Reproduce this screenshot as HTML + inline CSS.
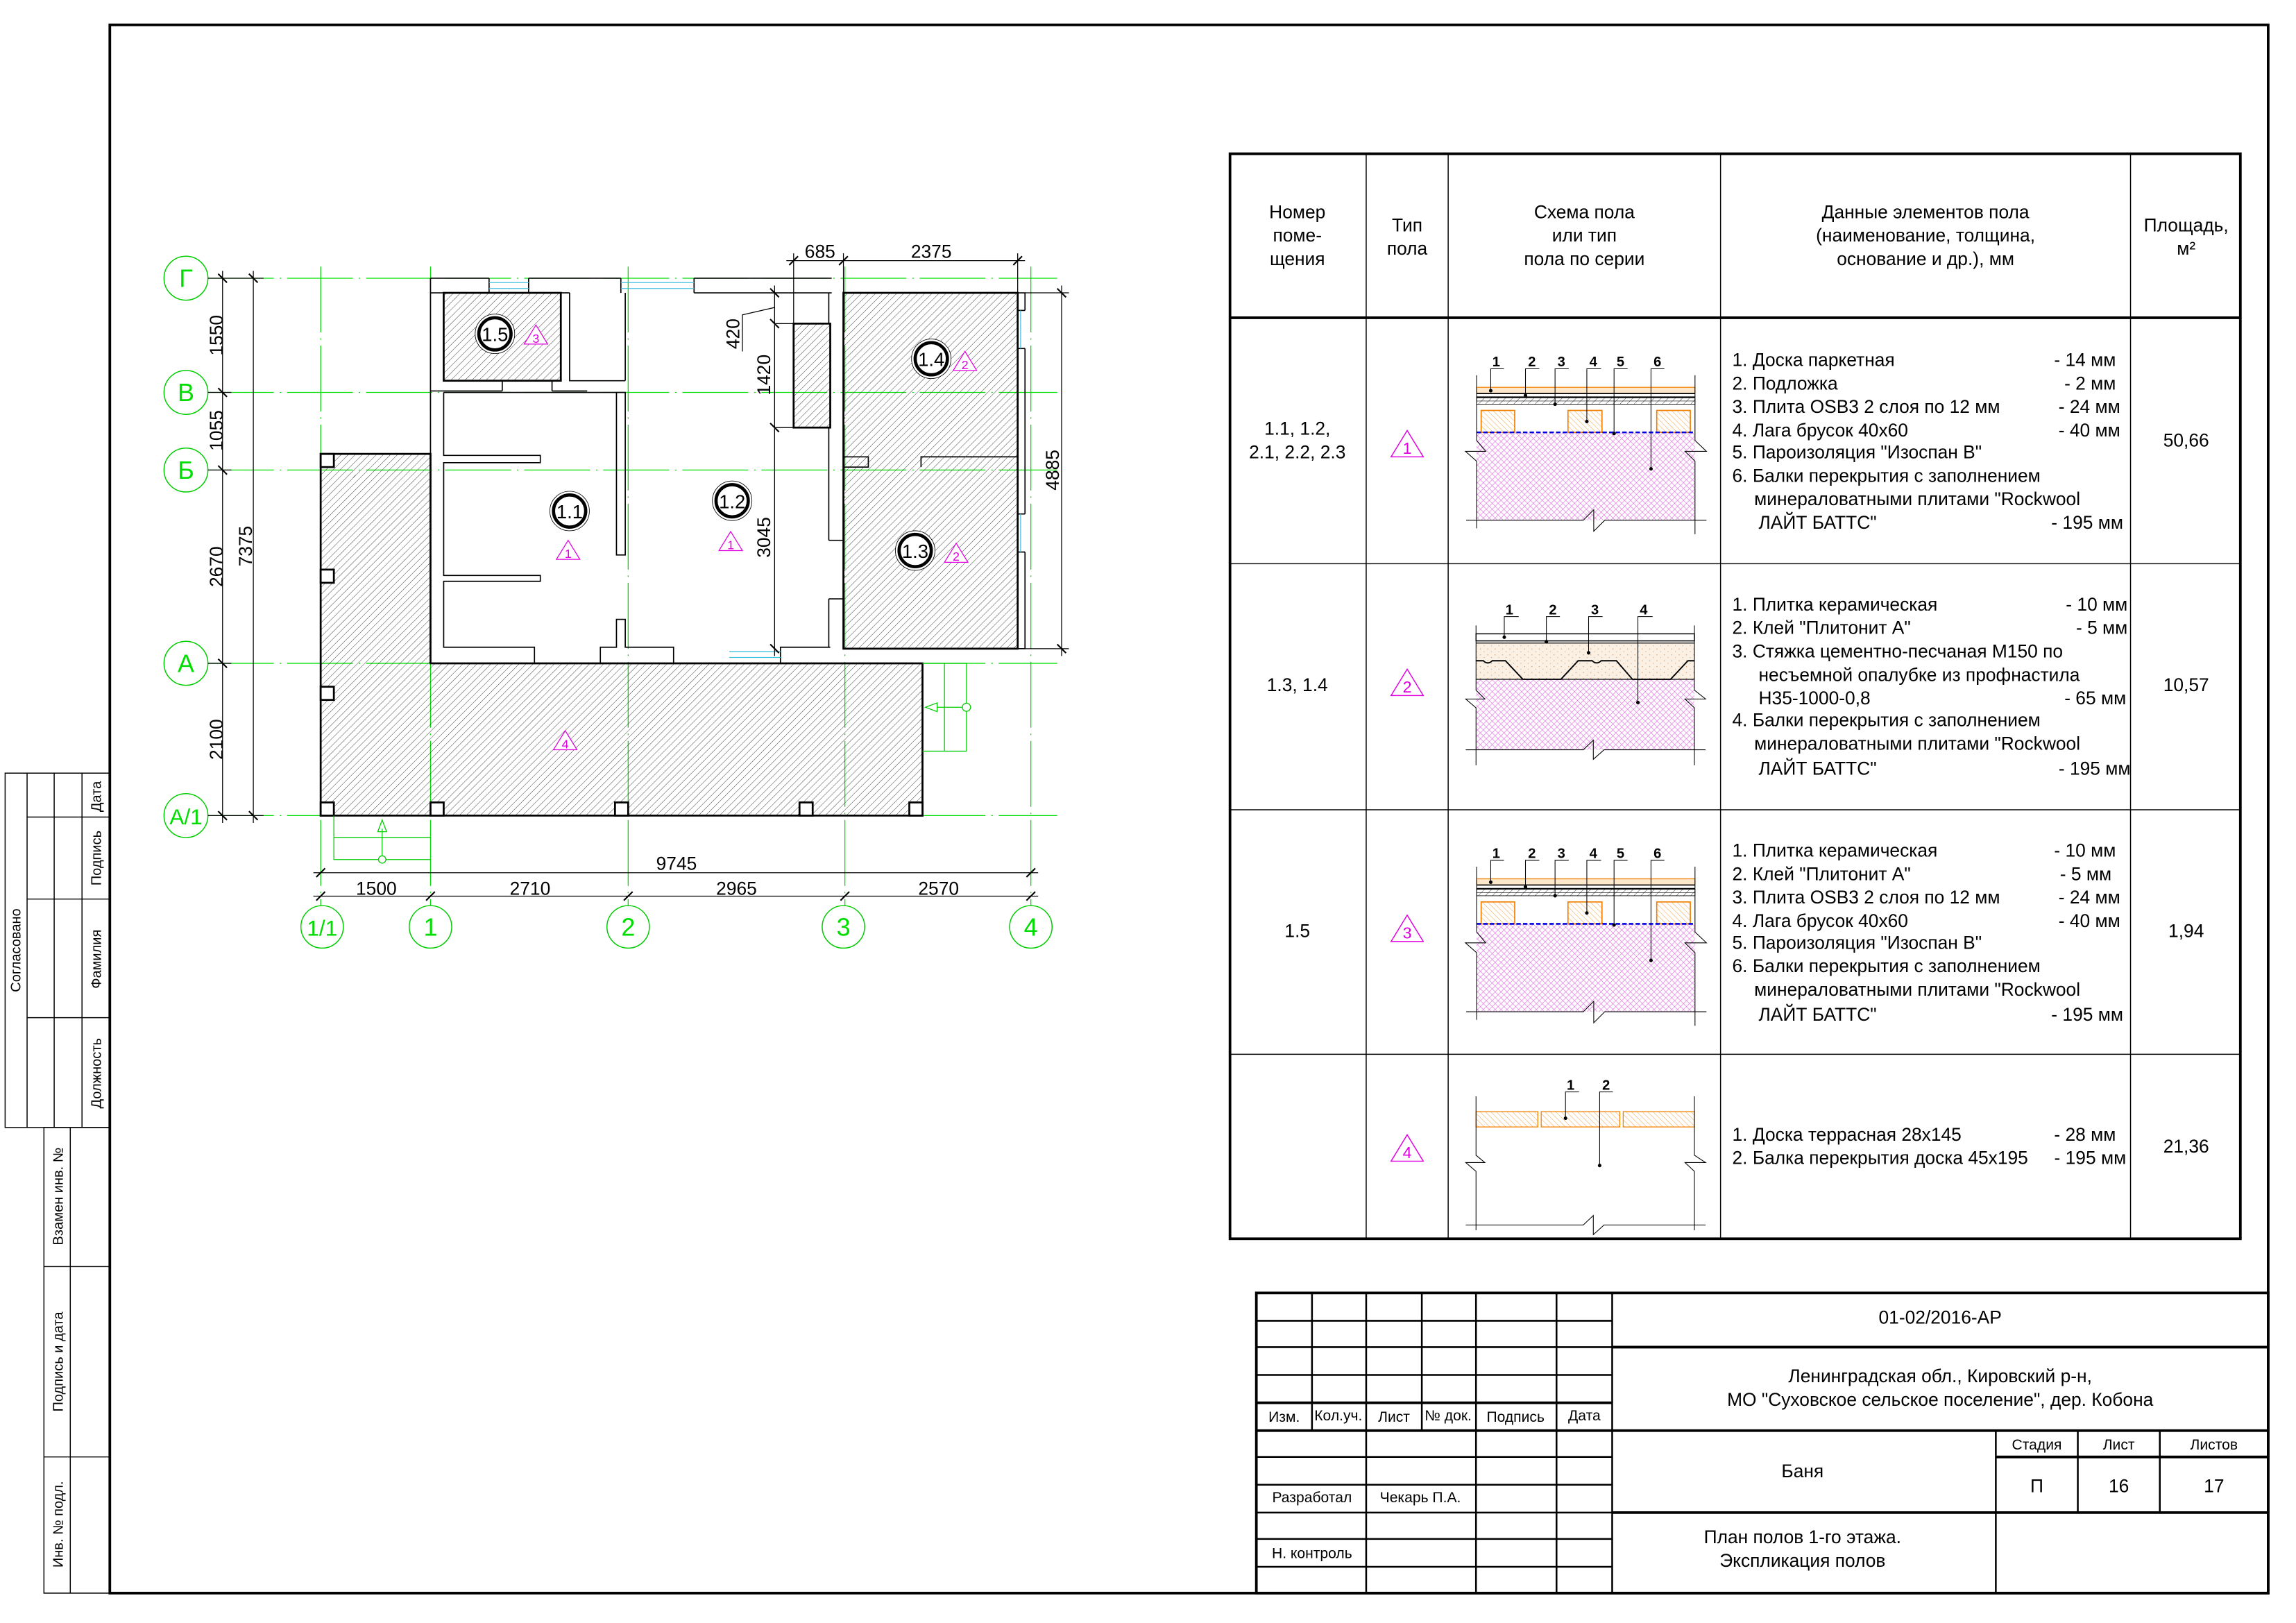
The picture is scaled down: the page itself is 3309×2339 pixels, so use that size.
<!DOCTYPE html>
<html><head><meta charset="utf-8"><style>
html,body{margin:0;padding:0;background:#fff;}
svg{display:block;}
text{font-family:"Liberation Sans",Arial,sans-serif;}
</style></head><body>
<svg xmlns="http://www.w3.org/2000/svg" width="3309" height="2339" viewBox="0 0 1568 1108.4" preserveAspectRatio="none">
<defs>
<pattern id="hk" patternUnits="userSpaceOnUse" width="3.4" height="3.4" patternTransform="rotate(45)"><line x1="0" y1="0" x2="0" y2="3.4" stroke="#222" stroke-width="0.4"/></pattern>
<pattern id="ho" patternUnits="userSpaceOnUse" width="2.6" height="2.6" patternTransform="rotate(-45)"><line x1="0" y1="0" x2="0" y2="2.6" stroke="#f08000" stroke-width="0.35"/></pattern>
<pattern id="pk" patternUnits="userSpaceOnUse" width="4" height="4"><path d="M0,0 L4,4 M4,0 L0,4" stroke="#e070e0" stroke-width="0.3" fill="none"/></pattern>
<pattern id="sd" patternUnits="userSpaceOnUse" width="5" height="4"><rect width="5" height="4" fill="#fbf0e4"/><circle cx="1" cy="1" r="0.35" fill="#d8a070"/><circle cx="3.5" cy="2.8" r="0.3" fill="#d8a070"/></pattern>
</defs>
<rect width="1568" height="1108.4" fill="#fff"/>

<!-- frame -->
<rect x="75" y="17" width="1474" height="1071" fill="none" stroke="#000" stroke-width="1.8"/>

<!-- left strip -->
<g stroke="#000" stroke-width="0.7" fill="none">
<rect x="3.5" y="528" width="71.5" height="242"/>
<line x1="18.5" y1="528" x2="18.5" y2="770"/>
<line x1="37" y1="528" x2="37" y2="770"/>
<line x1="56" y1="528" x2="56" y2="770"/>
<line x1="18.5" y1="558" x2="75" y2="558"/>
<line x1="18.5" y1="614" x2="75" y2="614"/>
<line x1="18.5" y1="695" x2="75" y2="695"/>
<rect x="30" y="770" width="45" height="318"/>
<line x1="48" y1="770" x2="48" y2="1088"/>
<line x1="30" y1="865" x2="75" y2="865"/>
<line x1="30" y1="995" x2="75" y2="995"/>
</g>
<g font-size="9.5" fill="#000" text-anchor="middle">
<text transform="translate(14,649) rotate(-90)">Согласовано</text>
<text transform="translate(69,544) rotate(-90)">Дата</text>
<text transform="translate(69,586) rotate(-90)">Подпись</text>
<text transform="translate(69,655) rotate(-90)">Фамилия</text>
<text transform="translate(69,733) rotate(-90)">Должность</text>
<text transform="translate(43,817) rotate(-90)">Взамен инв. №</text>
<text transform="translate(43,930) rotate(-90)">Подпись и дата</text>
<text transform="translate(43,1041) rotate(-90)">Инв. № подл.</text>
</g>

<!-- ========== PLAN ========== -->
<!-- grid lines -->
<g stroke="#00dd00" stroke-width="0.6" stroke-dasharray="45 4 1 4" fill="none">
<line x1="142" y1="190" x2="722" y2="190"/>
<line x1="142" y1="268" x2="722" y2="268"/>
<line x1="142" y1="321" x2="722" y2="321"/>
<line x1="142" y1="453" x2="722" y2="453"/>
<line x1="142" y1="557" x2="722" y2="557"/>
<line x1="219" y1="182" x2="219" y2="619"/>
<line x1="294" y1="182" x2="294" y2="619"/>
<line x1="429" y1="182" x2="429" y2="619"/>
<line x1="577" y1="182" x2="577" y2="619"/>
<line x1="704" y1="182" x2="704" y2="619"/>
</g>
<!-- bubbles -->
<g stroke="#00cc00" stroke-width="0.7" fill="#fff">
<circle cx="127" cy="190" r="15"/><circle cx="127" cy="268" r="15"/><circle cx="127" cy="321" r="15"/><circle cx="127" cy="453" r="15"/><circle cx="127" cy="557" r="15"/>
<circle cx="220" cy="633" r="14.5"/><circle cx="294" cy="633" r="14.5"/><circle cx="429" cy="633" r="14.5"/><circle cx="576" cy="633" r="14.5"/><circle cx="704" cy="633" r="14.5"/>
</g>
<g fill="#00dd00" font-size="17" text-anchor="middle">
<text x="127" y="196">Г</text><text x="127" y="274">В</text><text x="127" y="327">Б</text><text x="127" y="459">А</text><text x="127" y="563" font-size="15">А/1</text>
<text x="220" y="639" font-size="15">1/1</text><text x="294" y="639">1</text><text x="429" y="639">2</text><text x="576" y="639">3</text><text x="704" y="639">4</text>
</g>

<!-- hatched areas -->
<g stroke="#000" stroke-width="1.3" fill="url(#hk)">
<path d="M219,310 H294 V453 H630 V557 H219 Z"/>
<rect x="303" y="200" width="80" height="60"/>
<rect x="576" y="200" width="119" height="243"/>
<rect x="542" y="221" width="25" height="71"/>
</g>
<!-- posts -->
<g stroke="#000" stroke-width="1.3" fill="#fff">
<rect x="219" y="310" width="9" height="9"/><rect x="219" y="389" width="9" height="9"/><rect x="219" y="469" width="9" height="9"/><rect x="219" y="548" width="9" height="9"/>
<rect x="294" y="548" width="9" height="9"/><rect x="420" y="548" width="9" height="9"/><rect x="546" y="548" width="9" height="9"/><rect x="621" y="548" width="9" height="9"/>
</g>

<!-- walls -->
<g stroke="#000" stroke-width="0.8" fill="none">
<line x1="294" y1="190" x2="334" y2="190"/><line x1="361" y1="190" x2="424" y2="190"/><line x1="474" y1="190" x2="568" y2="190"/>
<line x1="294" y1="200" x2="303" y2="200"/><line x1="383" y1="200" x2="389" y2="200"/><line x1="474" y1="200" x2="568" y2="200"/>
<line x1="334" y1="190" x2="334" y2="200"/><line x1="361" y1="190" x2="361" y2="200"/><line x1="424" y1="190" x2="424" y2="200"/><line x1="474" y1="190" x2="474" y2="200"/>
<path d="M389,200 V260 H427"/><line x1="427" y1="200" x2="427" y2="260"/>
<line x1="294" y1="190" x2="294" y2="310"/>
<path d="M343,260 V267 M377,260 V267"/>
<line x1="294" y1="267" x2="343" y2="267"/><line x1="377" y1="267" x2="401" y2="267"/>
<line x1="303" y1="268" x2="421" y2="268"/>
<path d="M303,268 V311 H369 V316 H303 V393 H369 V397 H303 V442 H365 V453"/>
<path d="M410,453 V442 H421 V423 H427 V442 H460 V453"/>
<rect x="421" y="268" width="6" height="111"/>
<path d="M533,453 V442 H567"/>
<line x1="566" y1="292" x2="566" y2="369"/><line x1="566" y1="369" x2="576" y2="369"/>
<line x1="566" y1="409" x2="566" y2="442"/><line x1="566" y1="409" x2="576" y2="409"/>
<path d="M566,200 V221"/>
<rect x="576" y="312" width="17" height="7"/>
<path d="M629,319 V312 H695"/>
<path d="M695,200 H700 V212 M700,238 V351 M700,377 V443 H695"/>
<line x1="695" y1="212" x2="700" y2="212"/><line x1="695" y1="238" x2="700" y2="238"/>
<line x1="695" y1="351" x2="700" y2="351"/><line x1="695" y1="377" x2="700" y2="377"/>
</g>
<g stroke="#40c0e0" stroke-width="0.6" fill="none">
<path d="M334,193 H361 M334,197 H361"/><path d="M424,193 H474 M424,197 H474"/>
<path d="M498,445 H533 M498,449 H533"/>
<path d="M697,212 V238 M697,351 V377"/>
</g>

<!-- stairs -->
<g stroke="#00cc00" stroke-width="0.6" fill="none">
<path d="M228,557 V587 H294 M228,572 H294"/>
<line x1="261" y1="587" x2="261" y2="566"/>
<path d="M258,568 L261,560 L264,568 Z"/>
<circle cx="261" cy="587" r="2.5" fill="#fff"/>
<path d="M630,453 H660 V513 H630 M645,453 V513"/>
<line x1="660" y1="483" x2="640" y2="483"/>
<path d="M640,480 L632,483 L640,486 Z"/>
<circle cx="660" cy="483" r="2.8" fill="#fff"/>
</g>

<!-- dimensions -->
<g stroke="#000" stroke-width="0.6" fill="none">
<line x1="152" y1="185" x2="152" y2="562"/><line x1="173" y1="185" x2="173" y2="562"/>
<line x1="142" y1="190" x2="180" y2="190"/><line x1="142" y1="268" x2="158" y2="268"/><line x1="142" y1="321" x2="158" y2="321"/><line x1="142" y1="453" x2="158" y2="453"/><line x1="142" y1="557" x2="180" y2="557"/>
<path d="M149,187 L155,193 M149,265 L155,271 M149,318 L155,324 M149,450 L155,456 M149,554 L155,560 M170,187 L176,193 M170,554 L176,560" stroke-width="1"/>
<line x1="214" y1="612" x2="709" y2="612"/><line x1="214" y1="596" x2="709" y2="596"/>
<path d="M216,615 L222,609 M291,615 L297,609 M426,615 L432,609 M574,615 L580,609 M701,615 L707,609 M216,599 L222,593 M701,599 L707,593" stroke-width="1"/>
<line x1="537" y1="178" x2="700" y2="178"/>
<line x1="542" y1="173" x2="542" y2="221"/><line x1="576" y1="173" x2="576" y2="200"/><line x1="695" y1="173" x2="695" y2="200"/>
<path d="M539,181 L545,175 M573,181 L579,175 M692,181 L698,175" stroke-width="1"/>
<line x1="725" y1="195" x2="725" y2="448"/><line x1="700" y1="200" x2="730" y2="200"/><line x1="700" y1="443" x2="730" y2="443"/>
<path d="M722,197 L728,203 M722,440 L728,446" stroke-width="1"/>
<line x1="529" y1="195" x2="529" y2="448"/>
<path d="M526,197 L532,203 M526,218 L532,224 M526,289 L532,295 M526,440 L532,446" stroke-width="1"/>
<line x1="529" y1="292" x2="542" y2="292"/><line x1="529" y1="221" x2="542" y2="221"/>
<path d="M529,210 L507,215 V240"/>
</g>
<g fill="#000" font-size="12.5" text-anchor="middle">
<text transform="translate(152,229) rotate(-90)">1550</text>
<text transform="translate(152,294) rotate(-90)">1055</text>
<text transform="translate(152,387) rotate(-90)">2670</text>
<text transform="translate(152,505) rotate(-90)">2100</text>
<text transform="translate(172,373) rotate(-90)">7375</text>
<text x="257" y="611">1500</text><text x="362" y="611">2710</text><text x="503" y="611">2965</text><text x="641" y="611">2570</text>
<text x="462" y="594">9745</text>
<text x="560" y="176">685</text><text x="636" y="176">2375</text>
<text transform="translate(723,321) rotate(-90)">4885</text>
<text transform="translate(526,256) rotate(-90)">1420</text>
<text transform="translate(526,367) rotate(-90)">3045</text>
<text transform="translate(505,228) rotate(-90)">420</text>
</g>

<!-- room markers -->
<g fill="#fff" stroke="#000">
<circle cx="338" cy="228" r="13.5" stroke-width="0.4"/><circle cx="338" cy="228" r="11" stroke-width="2.2"/>
<circle cx="389" cy="349" r="13.5" stroke-width="0.4"/><circle cx="389" cy="349" r="11" stroke-width="2.2"/>
<circle cx="500" cy="342" r="13.5" stroke-width="0.4"/><circle cx="500" cy="342" r="11" stroke-width="2.2"/>
<circle cx="636" cy="245" r="13.5" stroke-width="0.4"/><circle cx="636" cy="245" r="11" stroke-width="2.2"/>
<circle cx="625" cy="376" r="13.5" stroke-width="0.4"/><circle cx="625" cy="376" r="11" stroke-width="2.2"/>
</g>
<g font-size="13" text-anchor="middle" fill="#000">
<text x="338" y="233">1.5</text><text x="389" y="354">1.1</text><text x="500" y="347">1.2</text><text x="636" y="250">1.4</text><text x="625" y="381">1.3</text>
</g>
<g stroke="#e000e0" stroke-width="0.6" fill="#fff">
<path d="M366,222 L374,235 L358,235 Z"/><path d="M388,369 L396,382 L380,382 Z"/><path d="M499,363 L507,376 L491,376 Z"/>
<path d="M659,240 L667,253 L651,253 Z"/><path d="M653,371 L661,384 L645,384 Z"/><path d="M386,499 L394,512 L378,512 Z"/>
</g>
<g fill="#e000e0" font-size="8.5" text-anchor="middle">
<text x="366" y="234">3</text><text x="388" y="381">1</text><text x="499" y="375">1</text><text x="659" y="252">2</text><text x="653" y="383">2</text><text x="386" y="511">4</text>
</g>

<!-- ========== TABLE ========== -->
<g stroke="#000" fill="none">
<rect x="840" y="105" width="690" height="741" stroke-width="1.8"/>
<line x1="840" y1="217" x2="1530" y2="217" stroke-width="1.8"/>
<g stroke-width="0.7">
<line x1="840" y1="385" x2="1530" y2="385"/><line x1="840" y1="553" x2="1530" y2="553"/><line x1="840" y1="720" x2="1530" y2="720"/>
<line x1="933" y1="105" x2="933" y2="846"/><line x1="989" y1="105" x2="989" y2="846"/><line x1="1175" y1="105" x2="1175" y2="846"/><line x1="1455" y1="105" x2="1455" y2="846"/>
</g>
</g>
<g fill="#000" font-size="12.5" text-anchor="middle">
<text x="886" y="149">Номер</text><text x="886" y="165">поме-</text><text x="886" y="181">щения</text>
<text x="961" y="158">Тип</text><text x="961" y="174">пола</text>
<text x="1082" y="149">Схема пола</text><text x="1082" y="165">или тип</text><text x="1082" y="181">пола по серии</text>
<text x="1315" y="149">Данные элементов пола</text><text x="1315" y="165">(наименование, толщина,</text><text x="1315" y="181">основание и др.), мм</text>
<text x="1493" y="158">Площадь,</text><text x="1493" y="174">м²</text>
<text x="886" y="297">1.1, 1.2,</text><text x="886" y="313">2.1, 2.2, 2.3</text>
<text x="886" y="472">1.3, 1.4</text>
<text x="886" y="640">1.5</text>
<text x="1493" y="305">50,66</text><text x="1493" y="472">10,57</text><text x="1493" y="640">1,94</text><text x="1493" y="787">21,36</text>
</g>
<g stroke="#e000e0" stroke-width="0.7" fill="#fff">
<path d="M961,294 L972,312 L950,312 Z"/><path d="M961,457 L972,475 L950,475 Z"/><path d="M961,625 L972,643 L950,643 Z"/><path d="M961,775 L972,793 L950,793 Z"/>
</g>
<g fill="#e000e0" font-size="11" text-anchor="middle">
<text x="961" y="310">1</text><text x="961" y="473">2</text><text x="961" y="641">3</text><text x="961" y="791">4</text>
</g>

<g fill="#000" font-size="12.5">
<text x="1183" y="250">1. Доска паркетная</text>
<text x="1183" y="266">2. Подложка</text>
<text x="1183" y="282">3. Плита OSB3 2 слоя по 12 мм</text>
<text x="1183" y="298">4. Лага брусок 40х60</text>
<text x="1183" y="313">5. Пароизоляция "Изоспан В"</text>
<text x="1183" y="329">6. Балки перекрытия с заполнением</text>
<text x="1198" y="345">минераловатными плитами "Rockwool</text>
<text x="1201" y="361">ЛАЙТ БАТТС"</text>

<text x="1183" y="417">1. Плитка керамическая</text>
<text x="1183" y="433">2. Клей "Плитонит А"</text>
<text x="1183" y="449">3. Стяжка цементно-песчаная М150 по</text>
<text x="1201" y="465">несъемной опалубке из профнастила</text>
<text x="1201" y="481">Н35-1000-0,8</text>
<text x="1183" y="496">4. Балки перекрытия с заполнением</text>
<text x="1198" y="512">минераловатными плитами "Rockwool</text>
<text x="1201" y="529">ЛАЙТ БАТТС"</text>

<text x="1183" y="585">1. Плитка керамическая</text>
<text x="1183" y="601">2. Клей "Плитонит А"</text>
<text x="1183" y="617">3. Плита OSB3 2 слоя по 12 мм</text>
<text x="1183" y="633">4. Лага брусок 40х60</text>
<text x="1183" y="648">5. Пароизоляция "Изоспан В"</text>
<text x="1183" y="664">6. Балки перекрытия с заполнением</text>
<text x="1198" y="680">минераловатными плитами "Rockwool</text>
<text x="1201" y="697">ЛАЙТ БАТТС"</text>

<text x="1183" y="779">1. Доска террасная 28х145</text>
<text x="1183" y="795">2. Балка перекрытия доска 45х195</text>
</g>
<g fill="#000" font-size="12.5" text-anchor="end">
<text x="1445" y="250">- 14 мм</text><text x="1445" y="266">- 2 мм</text><text x="1448" y="282">- 24 мм</text><text x="1448" y="298">- 40 мм</text><text x="1450" y="361">- 195 мм</text>
<text x="1453" y="417">- 10 мм</text><text x="1453" y="433">- 5 мм</text><text x="1452" y="481">- 65 мм</text><text x="1455" y="529">- 195 мм</text>
<text x="1445" y="585">- 10 мм</text><text x="1442" y="601">- 5 мм</text><text x="1448" y="617">- 24 мм</text><text x="1448" y="633">- 40 мм</text><text x="1450" y="697">- 195 мм</text>
<text x="1445" y="779">- 28 мм</text><text x="1452" y="795">- 195 мм</text>
</g>

<!-- schematics (true coords) -->
<g transform="scale(1.005)">
<g id="s1">
<rect x="1003.4" y="294" width="148.4" height="59.5" fill="url(#pk)"/>
<rect x="1003.4" y="263.2" width="148.4" height="4.2" fill="#fde8cc" stroke="#f08000" stroke-width="0.6"/>
<path d="M1003.4,267.4 H1151.8 M1003.4,269.8 H1151.8" stroke="#000" stroke-width="0.8"/>
<rect x="1003.4" y="270.3" width="148.4" height="4.4" fill="url(#hk)" stroke="#000" stroke-width="0.4"/>
<line x1="1003.4" y1="272.5" x2="1151.8" y2="272.5" stroke="#000" stroke-width="0.3"/>
<g fill="url(#ho)" stroke="#f08000" stroke-width="0.8">
<rect x="1006.5" y="278.9" width="22.8" height="14.9"/><rect x="1065.5" y="278.9" width="23.1" height="14.9"/><rect x="1125.8" y="278.9" width="22.8" height="14.9"/>
</g>
<line x1="1003.4" y1="293.8" x2="1151.8" y2="293.8" stroke="#0000e0" stroke-width="1.2" stroke-dasharray="3 1.5"/>
<g stroke="#000" stroke-width="0.5" fill="none">
<path d="M1003.4,255 V299.3 L1009.6,306.7 H995.8 L1003.4,313.4 V359"/>
<path d="M1151.8,255 V299.3 L1159.6,306.7 H1145 L1151.8,313.4 V363"/>
<path d="M996.3,353.5 H1075.9 L1083,346.4 V361 L1090.5,353.5 H1159.6"/>
<path d="M1013,265.5 V250.6 H1022 M1036.6,268.7 V250.6 H1046 M1056.7,274.7 V250.6 H1066 M1078.3,286.4 V250.6 H1088 M1096.8,294.6 V250.6 H1106 M1121.9,318.6 V250.6 H1131"/>
</g>
<g fill="#000"><circle cx="1013" cy="265.5" r="1.2"/><circle cx="1036.6" cy="268.7" r="1.2"/><circle cx="1056.7" cy="274.7" r="1.2"/><circle cx="1078.3" cy="286.4" r="1.2"/><circle cx="1096.8" cy="294.6" r="1.2"/><circle cx="1121.9" cy="318.6" r="1.2"/></g>
<g fill="#000" font-size="9.5" font-weight="bold" text-anchor="middle">
<text x="1016.7" y="249">1</text><text x="1041" y="249">2</text><text x="1061" y="249">3</text><text x="1082.7" y="249">4</text><text x="1101.2" y="249">5</text><text x="1126.3" y="249">6</text>
</g>
</g>
<use href="#s1" transform="translate(0,334)"/>

<!-- row 2 -->
<g>
<rect x="1003" y="461.6" width="148.4" height="47.9" fill="url(#pk)"/>
<rect x="1003" y="437" width="148.4" height="24.6" fill="url(#sd)"/>
<path d="M1003,449 H1008 Q1011,452 1014,449 H1023 L1034.8,461.6 H1060.7 L1072.4,449 H1082 Q1085,452 1088,449 H1098.4 L1109.3,461.6 H1135.2 L1147,449 H1151.4" fill="none" stroke="#000" stroke-width="0.9"/>
<rect x="1003" y="430.7" width="148.4" height="4.8" fill="#fff" stroke="#000" stroke-width="0.7"/>
<line x1="1003" y1="437" x2="1151.4" y2="437" stroke="#000" stroke-width="0.6"/>
<line x1="1003" y1="461.6" x2="1151.4" y2="461.6" stroke="#000" stroke-width="0.6"/>
<g stroke="#000" stroke-width="0.5" fill="none">
<path d="M1003,425 V469 L1009,475 H996 L1003,481 V520"/>
<path d="M1151.4,425 V469 L1159,475 H1145 L1151.4,481 V520"/>
<path d="M996,509.5 H1075.9 L1082.7,503 V516 L1090,509.5 H1159"/>
<path d="M1022.2,433 V419 H1032 M1050.8,436 V419 H1060 M1079.5,443.6 V419 H1089 M1113,477.4 V419 H1123"/>
</g>
<g fill="#000"><circle cx="1022.2" cy="433" r="1.2"/><circle cx="1050.8" cy="436" r="1.2"/><circle cx="1079.5" cy="443.6" r="1.2"/><circle cx="1113" cy="477.4" r="1.2"/></g>
<g fill="#000" font-size="9.5" font-weight="bold" text-anchor="middle">
<text x="1025.7" y="417.5">1</text><text x="1055.2" y="417.5">2</text><text x="1083.8" y="417.5">3</text><text x="1116.9" y="417.5">4</text>
</g>
</g>

<!-- row 4 -->
<g>
<g fill="url(#ho)" stroke="#f08000" stroke-width="0.6">
<rect x="1003" y="755.4" width="42" height="10.4"/><rect x="1047.3" y="755.4" width="53.4" height="10.4"/><rect x="1103" y="755.4" width="48.4" height="10.4"/>
</g>
<g stroke="#000" stroke-width="0.5" fill="none">
<path d="M1003,745 V785 L1009,790 H996 L1003,796 V836"/>
<path d="M1151.4,745 V785 L1159,790 H1145 L1151.4,796 V836"/>
<path d="M996,832.4 H1075.9 L1082.7,826 V839 L1090,832.4 H1159"/>
<path d="M1063.8,759.9 V742 H1073 M1087,792 V742 H1096"/>
</g>
<g fill="#000"><circle cx="1063.8" cy="759.9" r="1.2"/><circle cx="1087" cy="792" r="1.2"/></g>
<g fill="#000" font-size="9.5" font-weight="bold" text-anchor="middle">
<text x="1067.3" y="740.5">1</text><text x="1091.4" y="740.5">2</text>
</g>
</g>
</g>

<!-- ========== TITLE BLOCK ========== -->
<g stroke="#000" fill="none">
<rect x="858" y="883" width="691" height="205" stroke-width="1.8"/>
<g stroke-width="1.2">
<line x1="1101" y1="883" x2="1101" y2="1088"/>
<line x1="896" y1="883" x2="896" y2="977"/><line x1="933" y1="883" x2="933" y2="1088"/><line x1="971" y1="883" x2="971" y2="977"/><line x1="1008" y1="883" x2="1008" y2="1088"/><line x1="1063" y1="883" x2="1063" y2="1088"/>
<line x1="858" y1="902" x2="1101" y2="902"/><line x1="858" y1="920" x2="1101" y2="920"/><line x1="858" y1="939" x2="1101" y2="939"/>
<line x1="858" y1="995" x2="1101" y2="995"/><line x1="858" y1="1014" x2="1101" y2="1014"/><line x1="858" y1="1033" x2="1101" y2="1033"/><line x1="858" y1="1051" x2="1101" y2="1051"/><line x1="858" y1="1070" x2="1101" y2="1070"/>
<line x1="1363" y1="977" x2="1363" y2="1088"/><line x1="1419" y1="977" x2="1419" y2="1033"/><line x1="1475" y1="977" x2="1475" y2="1033"/>
</g>
<g stroke-width="1.8">
<line x1="858" y1="958" x2="1101" y2="958"/><line x1="858" y1="977" x2="1549" y2="977"/>
<line x1="1101" y1="920" x2="1549" y2="920"/><line x1="1101" y1="1033" x2="1549" y2="1033"/><line x1="1363" y1="995" x2="1549" y2="995"/>
</g>
</g>
<g fill="#000" font-size="10" text-anchor="middle">
<text x="877" y="971">Изм.</text><text x="914" y="970">Кол.уч.</text><text x="952" y="971">Лист</text><text x="989" y="970">№ док.</text><text x="1035" y="971">Подпись</text><text x="1082" y="970">Дата</text>
<text x="896" y="1026">Разработал</text><text x="970" y="1026">Чекарь П.А.</text><text x="896" y="1064">Н. контроль</text>
<text x="1391" y="990">Стадия</text><text x="1447" y="990">Лист</text><text x="1512" y="990">Листов</text>
</g>
<g fill="#000" font-size="12.5" text-anchor="middle">
<text x="1325" y="904">01-02/2016-АР</text>
<text x="1325" y="944">Ленинградская обл., Кировский р-н,</text>
<text x="1325" y="960">МО "Суховское сельское поселение",  дер. Кобона</text>
<text x="1231" y="1009">Баня</text>
<text x="1231" y="1054">План полов 1-го этажа.</text>
<text x="1231" y="1070">Экспликация полов</text>
<text x="1391" y="1019">П</text><text x="1447" y="1019">16</text><text x="1512" y="1019">17</text>
</g>
</svg>
</body></html>
